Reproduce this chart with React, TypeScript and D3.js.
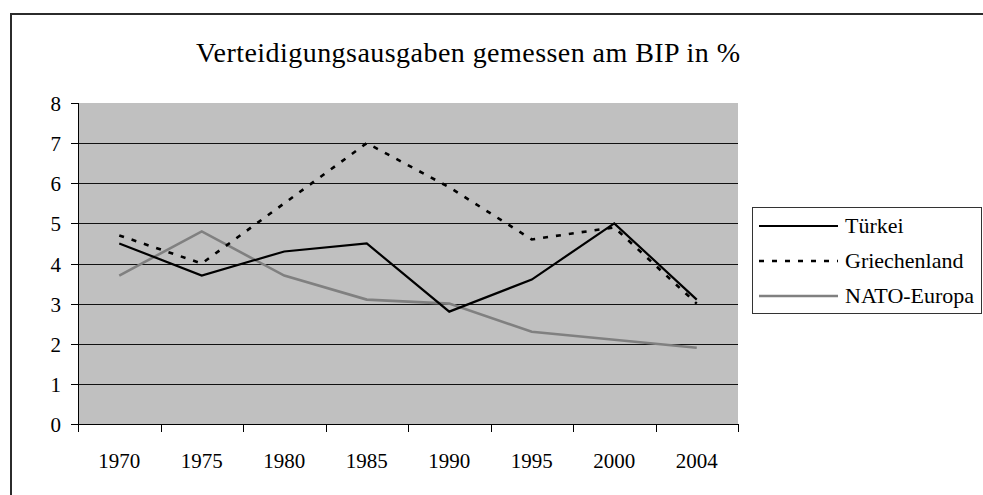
import React, { useEffect, useRef } from "react";
import * as d3 from "d3";

const years = ["1970", "1975", "1980", "1985", "1990", "1995", "2000", "2004"];
const tuerkei = [4.5, 3.7, 4.3, 4.5, 2.8, 3.6, 5.0, 3.1];
const griechenland = [4.7, 4.0, 5.5, 7.0, 5.9, 4.6, 4.9, 3.0];
const natoEuropa = [3.7, 4.8, 3.7, 3.1, 3.0, 2.3, 2.1, 1.9];
const yTicks = [0, 1, 2, 3, 4, 5, 6, 7, 8];
const title = "Verteidigungsausgaben gemessen am BIP in %";

const series = [
  { name: "Türkei", values: tuerkei, color: "#000", width: 2.2, dash: null },
  { name: "Griechenland", values: griechenland, color: "#000", width: 2.6, dash: "5,8" },
  { name: "NATO-Europa", values: natoEuropa, color: "#808080", width: 2.6, dash: null },
];

const FONT = "'Liberation Serif', 'Times New Roman', serif";

export default function App() {
  const svgRef = useRef<SVGSVGElement | null>(null);

  useEffect(() => {
    if (!svgRef.current) return;
    const width = 983;
    const height = 495;
    const plot = { left: 78, right: 738, top: 103, bottom: 424 };

    const svg = d3.select(svgRef.current);
    svg.selectAll("*").remove();
    svg.attr("width", width).attr("height", height);

    // outer chart frame (cut off at right and bottom)
    svg
      .append("rect")
      .attr("x", 11)
      .attr("y", 14)
      .attr("width", 1000)
      .attr("height", 600)
      .attr("fill", "#fff")
      .attr("stroke", "#2b2b2b")
      .attr("stroke-width", 2);

    svg
      .append("text")
      .attr("x", 196)
      .attr("y", 62)
      .attr("font-family", FONT)
      .attr("font-size", 28)
      .attr("textLength", 544)
      .attr("lengthAdjust", "spacing")
      .attr("fill", "#000")
      .text(title);

    const x = d3
      .scaleBand()
      .domain(years)
      .range([plot.left, plot.right])
      .paddingInner(0)
      .paddingOuter(0);
    const bw = x.bandwidth();
    const cx = (i: number) => (x(years[i]) as number) + bw / 2;

    const y = d3.scaleLinear().domain([0, 8]).range([plot.bottom, plot.top]);

    svg
      .append("rect")
      .attr("x", plot.left)
      .attr("y", plot.top)
      .attr("width", plot.right - plot.left)
      .attr("height", plot.bottom - plot.top)
      .attr("fill", "#c0c0c0");

    // gridlines
    svg
      .append("g")
      .selectAll("line")
      .data(yTicks.filter((t) => t > 0 && t < 8))
      .join("line")
      .attr("x1", plot.left)
      .attr("x2", plot.right)
      .attr("y1", (d) => Math.round(y(d)) + 0.5)
      .attr("y2", (d) => Math.round(y(d)) + 0.5)
      .attr("stroke", "#111")
      .attr("stroke-width", 1);

    // y axis
    const yAxis = svg.append("g");
    yAxis
      .append("line")
      .attr("x1", plot.left + 0.5)
      .attr("x2", plot.left + 0.5)
      .attr("y1", plot.top)
      .attr("y2", plot.bottom)
      .attr("stroke", "#000");
    yAxis
      .selectAll("line.tick")
      .data(yTicks)
      .join("line")
      .attr("class", "tick")
      .attr("x1", plot.left - 7)
      .attr("x2", plot.left)
      .attr("y1", (d) => Math.round(y(d)) + 0.5)
      .attr("y2", (d) => Math.round(y(d)) + 0.5)
      .attr("stroke", "#000");
    yAxis
      .selectAll("text")
      .data(yTicks)
      .join("text")
      .attr("x", 61)
      .attr("y", (d) => y(d) + 8)
      .attr("text-anchor", "end")
      .attr("font-family", FONT)
      .attr("font-size", 21)
      .text((d) => d);

    // x axis
    const xAxis = svg.append("g");
    xAxis
      .append("line")
      .attr("x1", plot.left)
      .attr("x2", plot.right)
      .attr("y1", plot.bottom + 0.5)
      .attr("y2", plot.bottom + 0.5)
      .attr("stroke", "#000");
    const edges = years.map((yr) => x(yr) as number).concat([plot.right]);
    xAxis
      .selectAll("line.tick")
      .data(edges)
      .join("line")
      .attr("class", "tick")
      .attr("x1", (d) => Math.round(d) + 0.5)
      .attr("x2", (d) => Math.round(d) + 0.5)
      .attr("y1", plot.bottom)
      .attr("y2", plot.bottom + 8)
      .attr("stroke", "#000");
    xAxis
      .selectAll("text")
      .data(years)
      .join("text")
      .attr("x", (d, i) => cx(i))
      .attr("y", 468)
      .attr("text-anchor", "middle")
      .attr("font-family", FONT)
      .attr("font-size", 21)
      .text((d) => d);

    const line = d3
      .line<number>()
      .x((d, i) => cx(i))
      .y((d) => y(d));

    // NATO first so black lines sit on top
    [series[2], series[0], series[1]].forEach((s) => {
      svg
        .append("path")
        .datum(s.values)
        .attr("fill", "none")
        .attr("stroke", s.color)
        .attr("stroke-width", s.width)
        .attr("stroke-linejoin", "miter")
        .attr("stroke-dasharray", s.dash)
        .attr("d", line);
    });

    // legend
    const lg = svg.append("g");
    lg.append("rect")
      .attr("x", 752.5)
      .attr("y", 207.5)
      .attr("width", 229)
      .attr("height", 106)
      .attr("fill", "#fff")
      .attr("stroke", "#333")
      .attr("stroke-width", 1);
    const rows = [226, 261, 296];
    series.forEach((s, i) => {
      lg.append("line")
        .attr("x1", 759)
        .attr("x2", 838)
        .attr("y1", rows[i])
        .attr("y2", rows[i])
        .attr("stroke", s.color)
        .attr("stroke-width", s.width)
        .attr("stroke-dasharray", s.dash);
      lg.append("text")
        .attr("x", 845)
        .attr("y", rows[i] + 7)
        .attr("font-family", FONT)
        .attr("font-size", 22)
        .text(s.name);
    });
  }, []);

  return (
    <svg
      ref={svgRef}
      style={{ position: "absolute", left: 0, top: 0, display: "block" }}
    />
  );
}
